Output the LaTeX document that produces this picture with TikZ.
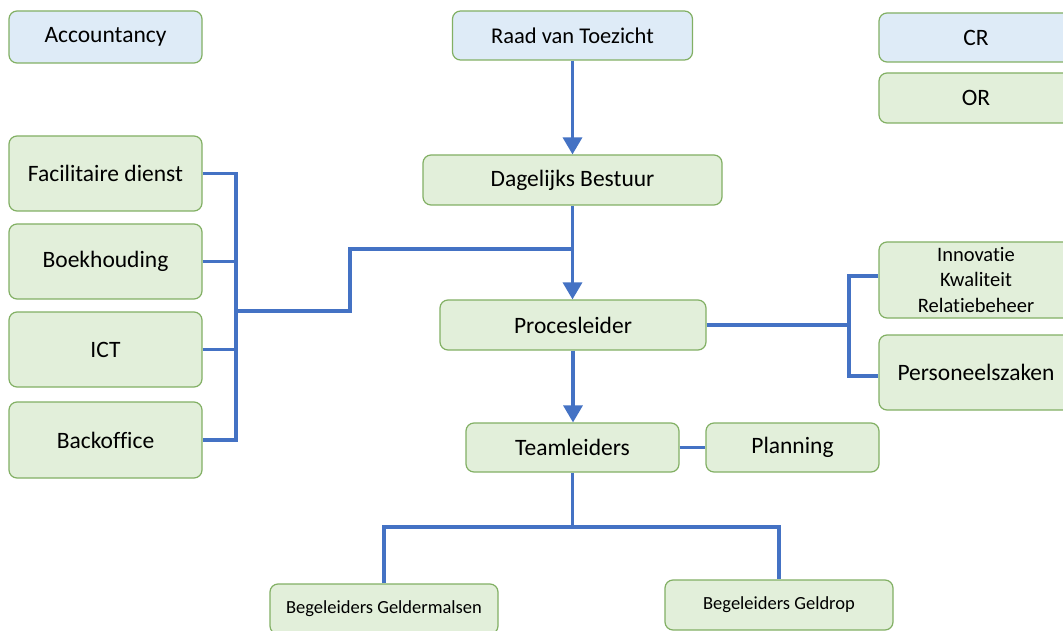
\documentclass[tikz,border=0pt]{standalone}
\usepackage{fontspec}
\setmainfont{Carlito}[Ligatures={NoCommon,NoRare,NoDiscretionary},Contextuals=NoAlternate]
\usetikzlibrary{arrows.meta}
\definecolor{boxgreen}{RGB}{226,239,218}
\definecolor{boxblue}{RGB}{222,235,247}
\definecolor{boxedge}{RGB}{130,176,100}
\definecolor{linkblue}{RGB}{68,114,196}
\tikzset{
  orgbox/.style={draw=boxedge, line width=1.2pt, rounded corners=8pt, fill=boxgreen,
    inner sep=0pt, align=center, text=black, font=\fontsize{23.5}{28}\selectfont},
  bluebox/.style={orgbox, fill=boxblue},
  smalltext/.style={font=\fontsize{20.5}{25.5}\selectfont},
  tinytext/.style={font=\fontsize{18.5}{22}\selectfont},
  conn/.style={draw=linkblue, line width=3.3pt},
  arrowconn/.style={conn, -{Triangle[length=17pt,width=19pt]}},
}
\begin{document}
\begin{tikzpicture}[x=1pt,y=-1pt]
\useasboundingbox (0,0) rectangle (1063,631);
\clip (0,0) rectangle (1063,631);
\fill[white] (0,0) rectangle (1063,631);
% top row
\node[bluebox, minimum width=193pt, minimum height=52pt] (acc) at (105.5,37) {Accountancy};
\node[bluebox, minimum width=240pt, minimum height=49pt, font=\fontsize{22.5}{27}\selectfont] (raad) at (572.5,35.5) {Raad van Toezicht};
\node[bluebox, minimum width=194pt, minimum height=49pt] (cr) at (976,37.5) {CR};
\node[orgbox, minimum width=194pt, minimum height=50pt] (or) at (976,98) {OR};
% left column
\node[orgbox, minimum width=193pt, minimum height=75pt] (fac) at (105.5,173.5) {Facilitaire dienst};
\node[orgbox, minimum width=193pt, minimum height=75pt] (boek) at (105.5,261.5) {Boekhouding};
\node[orgbox, minimum width=193pt, minimum height=75pt] (ict) at (105.5,349.5) {ICT};
\node[orgbox, minimum width=193pt, minimum height=76pt] (back) at (105.5,440) {Backoffice};
% centre column
\node[orgbox, minimum width=299pt, minimum height=50pt] (dag) at (572.5,180) {Dagelijks Bestuur};
\node[orgbox, minimum width=266pt, minimum height=50pt] (proc) at (573,325) {Procesleider};
\node[orgbox, minimum width=213pt, minimum height=49pt] (team) at (572.5,447.5) {Teamleiders};
\node[orgbox, minimum width=173pt, minimum height=49pt] (plan) at (792.5,447.5) {Planning};
% right column
\node[orgbox, smalltext, minimum width=194pt, minimum height=76pt] (inno) at (976,280) {Innovatie\\Kwaliteit\\Relatiebeheer};
\node[orgbox, minimum width=194pt, minimum height=75pt] (pers) at (976,372.5) {Personeelszaken};
% bottom
\node[orgbox, tinytext, minimum width=228pt, minimum height=50pt] (geldm) at (384,609) {Begeleiders Geldermalsen};
\node[orgbox, tinytext, minimum width=228pt, minimum height=50pt] (geldr) at (779,605) {Begeleiders Geldrop};
% coordinates
\coordinate (lbus) at (236,0);
\coordinate (lj) at (236,311);
\coordinate (lk) at (350,249);
\coordinate (rbus) at (849,0);
\coordinate (ri) at (849,276);
\coordinate (rp) at (849,376);
\coordinate (bj) at (572.5,527);
% connectors
\draw[arrowconn] (raad.south) -- (raad.south |- dag.north);
\draw[arrowconn] (dag.south) -- (dag.south |- proc.north);
\draw[arrowconn] (proc.south) -- (proc.south |- team.north);
\draw[conn] (fac.east) -- (fac.east -| lbus) -- (back.east -| lbus) -- (back.east);
\draw[conn] (boek.east) -- (boek.east -| lbus);
\draw[conn] (ict.east) -- (ict.east -| lbus);
\draw[conn] (lj) -| (lk) -- (lk -| dag.south);
\draw[conn] (proc.east) -- (proc.east -| rbus);
\draw[conn] (ri -| inno.west) -- (ri) -- (rp) -- (rp -| pers.west);
\draw[conn] (team.east) -- (plan.west);
\draw[conn] (team.south) -- (bj);
\draw[conn] (geldm.north) -- (geldm.north |- bj) -- (geldr.north |- bj) -- (geldr.north);
\end{tikzpicture}
\end{document}
